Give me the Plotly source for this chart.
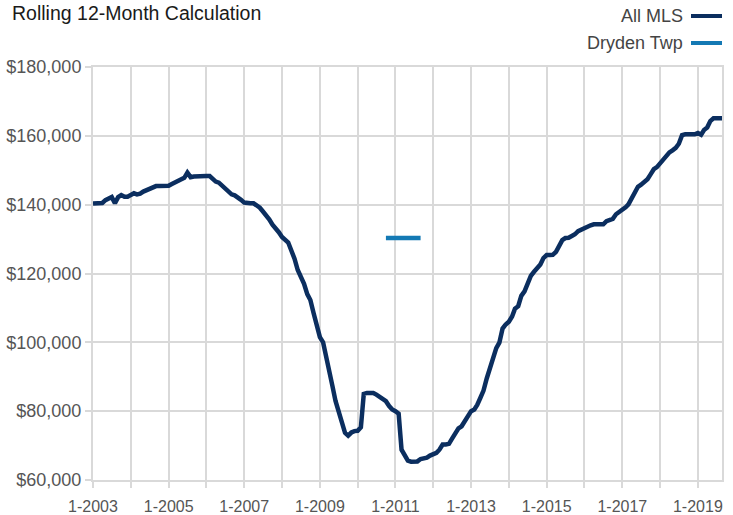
import plotly.graph_objects as go
import pandas as pd

# ---- data ----
start_month = "2003-01-01"
all_mls_values = [
    # 2003
    140300, 140300, 140300, 140500, 141300, 141700, 142200, 140400, 142200, 142800, 142300, 142300,
    # 2004
    142700, 143300, 143000, 143200, 143800, 144200, 144600, 145200, 145400, 145400, 145400, 145400,
    # 2005
    145500, 146000, 146400, 147100, 147400, 147800, 149300, 148000, 148200, 148300, 148300, 148300,
    # 2006
    148300, 148300, 147500, 146700, 146400, 145500, 144600, 143700, 143000, 142700, 142200, 141400,
    # 2007
    140600, 140400, 140400, 140400, 139800, 139100, 138000, 137000, 135700, 134200, 133300, 132000,
    # 2008
    130600, 129600, 129000, 126600, 124300, 121000, 119200, 117000, 114000, 112300, 108500, 105400,
    # 2009
    101500, 100000, 96500, 92300, 87500, 83000, 80000, 76700, 73700, 72900, 73800, 74200,
    # 2010
    74300, 75300, 85000, 85300, 85300, 85300, 84800, 84200, 83500, 82900, 81500, 80500,
    # 2011
    80000, 79300, 68800, 67000, 65600, 65300, 65300, 65400, 66100, 66300, 66500, 67100,
    # 2012
    67500, 67900, 68800, 70300, 70300, 70500, 72000, 73500, 75000, 75600, 77000, 78800,
    # 2013
    80000, 80500, 81800, 83900, 86000, 89500, 92300, 95300, 98300, 99900, 104000, 105200,
    # 2014
    106000, 107500, 109800, 110500, 113500, 114800, 117500, 119300, 120500, 121700, 122600, 124500,
    # 2015
    125350, 125350, 125400, 126300, 127700, 129700, 130300, 130400, 130900, 131400, 132300, 132800,
    # 2016
    133000, 133500, 134000, 134300, 134300, 134300, 134300, 135200, 135500, 135900, 137200, 137800,
    # 2017
    138300, 139200, 140100, 142000, 143700, 145200, 145800, 146700, 147400, 148800, 150300, 150900,
    # 2018
    152000, 153000, 154300, 155200, 155800, 156500, 157700, 160200, 160450, 160450, 160450, 160450,
    # 2019
    160800, 160300, 161700, 162400, 164300, 165100, 165100, 165100, 165100,
]
dryden_start = "2010-10-01"
dryden_values = [130300] * 12

series_names = ["All MLS", "Dryden Twp"]
series_colors = ["#0b2e5f", "#1479b4"]
title_text = "Rolling 12-Month Calculation"

all_dates = pd.date_range(start_month, periods=len(all_mls_values), freq="MS")
dry_dates = pd.date_range(dryden_start, periods=len(dryden_values), freq="MS")

GRID = "#d9d9d9"
FONT = "Liberation Sans, Arial, sans-serif"

fig = go.Figure()
fig.add_trace(go.Scatter(x=all_dates, y=all_mls_values, mode="lines", name=series_names[0],
                         line=dict(color=series_colors[0], width=4.5), showlegend=False))
fig.add_trace(go.Scatter(x=dry_dates, y=dryden_values, mode="lines", name=series_names[1],
                         line=dict(color=series_colors[1], width=4.5), showlegend=False))

# plot area geometry (pixels)
L, R, T, B = 93, 11, 67, 35
W, H = 733, 515
pw, ph = W - L - R, H - T - B

def px_x(x):
    return (x - L) / pw

def px_y(y):
    return (H - B - y) / ph

# title as annotation
fig.add_annotation(x=px_x(10), y=px_y(13), xref="paper", yref="paper", text=title_text,
                   showarrow=False, xanchor="left", yanchor="middle",
                   font=dict(family=FONT, size=19.5, color="#1a1a1a"))

# manual legend (symbol to the right of the label)
for name, color, ypx in zip(series_names, series_colors, [16, 43]):
    fig.add_annotation(x=px_x(685), y=px_y(ypx), xref="paper", yref="paper", text=name,
                       showarrow=False, xanchor="right", yanchor="middle",
                       font=dict(family=FONT, size=18, color="#444444"))
    fig.add_shape(type="line", xref="paper", yref="paper", x0=px_x(691), x1=px_x(722),
                  y0=px_y(ypx), y1=px_y(ypx), line=dict(color=color, width=4))

fig.update_layout(
    width=W, height=H,
    margin=dict(l=L, r=R, t=T, b=B, autoexpand=False),
    paper_bgcolor="white", plot_bgcolor="white",
    font=dict(family=FONT, size=16, color="#555555"),
)
fig.update_xaxes(
    type="date", range=["2003-01-01", "2019-08-22"], automargin=False,
    dtick="M24", tick0="2003-01-01", tickformat="%-m-%Y",
    showgrid=True, gridcolor=GRID, gridwidth=2,
    ticks="outside", ticklen=6, tickwidth=2, tickcolor=GRID,
    minor=dict(dtick="M12", showgrid=True, gridcolor=GRID, gridwidth=2,
               ticks="outside", ticklen=6, tickwidth=2, tickcolor=GRID),
    showline=True, mirror=True, linecolor=GRID, linewidth=2,
    ticklabelstandoff=5,
    tickfont=dict(family=FONT, size=16, color="#555555"),
)
fig.update_yaxes(
    range=[60000, 180000], dtick=20000, tickformat=",.0f", tickprefix="$",
    automargin=False,
    showgrid=True, gridcolor=GRID, gridwidth=2, zeroline=False,
    ticks="outside", ticklen=6, tickwidth=2, tickcolor=GRID,
    showline=True, mirror=True, linecolor=GRID, linewidth=2,
    tickfont=dict(family=FONT, size=18, color="#555555"),
)

fig.write_html(
    "out.html",
    config={"displayModeBar": False},
    post_script="document.body.style.margin='0';document.body.style.padding='0';",
)
